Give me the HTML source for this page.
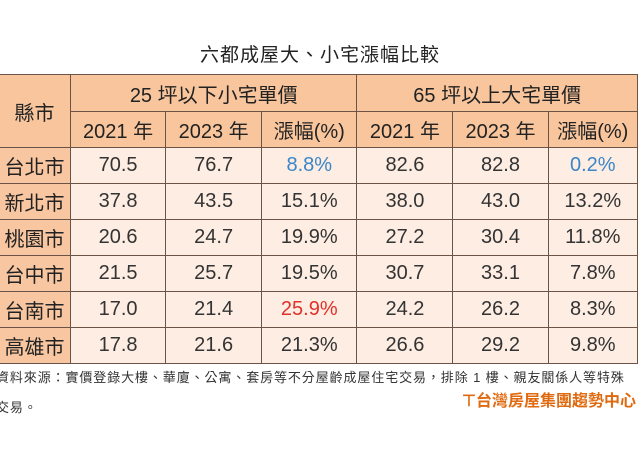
<!DOCTYPE html>
<html><head><meta charset="utf-8">
<style>
html,body{margin:0;padding:0;background:#fff;width:640px;height:460px;overflow:hidden;font-family:"Liberation Sans","Noto Sans CJK TC",sans-serif;}
#title{position:absolute;left:0;width:640px;top:40px;text-align:center;font-size:19px;color:#222;letter-spacing:1px;}
table{position:absolute;left:-2px;top:74px;border-collapse:collapse;table-layout:fixed;}
td{border:1.5px solid #6b5346;text-align:center;color:#333;font-size:20px;padding:0;height:35px;}
.h{background:#f8c59c;color:#222;}
.c{background:#f8c6a0;color:#222;font-size:20px;}
.d{background:#fdede3;}
.blue{color:#3a86c8;}
.red{color:#e0312a;}
#src{position:absolute;left:-4px;top:363px;font-size:13px;color:#333;line-height:30px;letter-spacing:0.9px;white-space:nowrap;}
#logo{position:absolute;left:462px;top:387px;font-size:16px;font-weight:bold;color:#e06a10;white-space:nowrap;}
</style></head><body>
<div id="title">六都成屋大、小宅漲幅比較</div>
<table>
<colgroup><col style="width:73px"><col style="width:96px"><col style="width:97px"><col style="width:96px"><col style="width:97px"><col style="width:96px"><col style="width:90px"></colgroup>
<tr style="height:37px"><td class="h" rowspan="2">縣市</td><td class="h" colspan="3">25 坪以下小宅單價</td><td class="h" colspan="3">65 坪以上大宅單價</td></tr>
<tr style="height:36px"><td class="h">2021 年</td><td class="h">2023 年</td><td class="h">漲幅(%)</td><td class="h">2021 年</td><td class="h">2023 年</td><td class="h">漲幅(%)</td></tr>
<tr><td class="c">台北市</td><td class="d">70.5</td><td class="d">76.7</td><td class="d blue">8.8%</td><td class="d">82.6</td><td class="d">82.8</td><td class="d blue">0.2%</td></tr>
<tr><td class="c">新北市</td><td class="d">37.8</td><td class="d">43.5</td><td class="d">15.1%</td><td class="d">38.0</td><td class="d">43.0</td><td class="d">13.2%</td></tr>
<tr><td class="c">桃園市</td><td class="d">20.6</td><td class="d">24.7</td><td class="d">19.9%</td><td class="d">27.2</td><td class="d">30.4</td><td class="d">11.8%</td></tr>
<tr><td class="c">台中市</td><td class="d">21.5</td><td class="d">25.7</td><td class="d">19.5%</td><td class="d">30.7</td><td class="d">33.1</td><td class="d">7.8%</td></tr>
<tr><td class="c">台南市</td><td class="d">17.0</td><td class="d">21.4</td><td class="d red">25.9%</td><td class="d">24.2</td><td class="d">26.2</td><td class="d">8.3%</td></tr>
<tr><td class="c">高雄市</td><td class="d">17.8</td><td class="d">21.6</td><td class="d">21.3%</td><td class="d">26.6</td><td class="d">29.2</td><td class="d">9.8%</td></tr>
</table>
<div id="src">資料來源：實價登錄大樓、華廈、公寓、套房等不分屋齡成屋住宅交易，排除 1 樓、親友關係人等特殊<br>交易。</div>
<div id="logo">⊤台灣房屋集團趨勢中心</div>
</body></html>
